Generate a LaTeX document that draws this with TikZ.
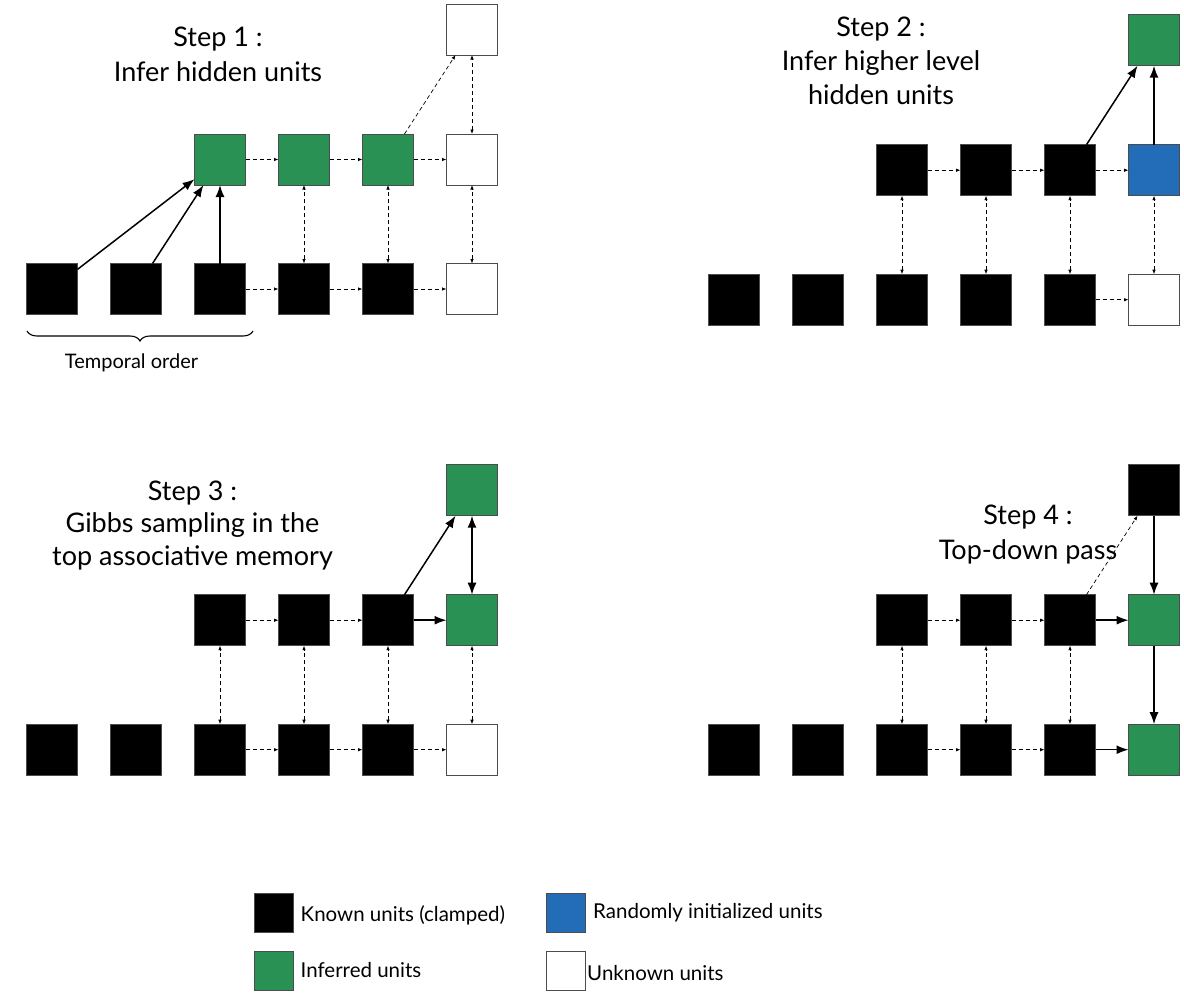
\documentclass[tikz,border=0pt]{standalone}
\usepackage{fontspec}
\setmainfont{Lato}
\usetikzlibrary{arrows.meta,decorations.pathreplacing}
\definecolor{kgreen}{RGB}{40,145,83}
\definecolor{kblue}{RGB}{34,108,184}
\begin{document}
\begin{tikzpicture}[x=1pt,y=-1pt,
  unit/.style={draw=black!70,line width=0.8pt,minimum size=51pt,inner sep=0pt,outer sep=0pt},
  known/.style={unit,fill=black},
  inferred/.style={unit,fill=kgreen},
  randinit/.style={unit,fill=kblue},
  unknown/.style={unit,fill=white},
  legbox/.style={minimum size=39pt},
  strong/.style={line width=1.5pt,-{Latex[length=12pt,width=9pt]}},
  strongboth/.style={line width=1.5pt,{Latex[length=12pt,width=9pt]}-{Latex[length=12pt,width=9pt]}},
  weak/.style={line width=0.7pt,dash pattern=on 4pt off 3pt,-{Latex[length=4.5pt,width=3.5pt]}},
  weakboth/.style={line width=0.7pt,dash pattern=on 4pt off 3pt,{Latex[length=4.5pt,width=3.5pt]}-{Latex[length=4.5pt,width=3.5pt]}},
  title/.style={font=\fontsize{27}{32}\selectfont,anchor=base,inner sep=0pt},
  legtext/.style={font=\fontsize{20.5}{24}\selectfont,anchor=base west,inner sep=0pt},
  small/.style={font=\fontsize{20}{24}\selectfont,anchor=base,inner sep=0pt}
]
\useasboundingbox[fill=white] (0,0) rectangle (1184,996);

% ---------------- Panel 1 ----------------
\node[known] (p1b1) at (52,289) {};
\node[known] (p1b2) at (136,289) {};
\node[known] (p1b3) at (220,289) {};
\node[known] (p1b4) at (304,289) {};
\node[known] (p1b5) at (388,289) {};
\node[unknown] (p1b6) at (472,289) {};
\node[inferred] (p1m1) at (220,159.5) {};
\node[inferred] (p1m2) at (304,159.5) {};
\node[inferred] (p1m3) at (388,159.5) {};
\node[unknown] (p1m4) at (472,159.5) {};
\node[unknown] (p1t) at (472,29.5) {};
\draw[strong] (p1b1) -- (p1m1);
\draw[strong] (p1b2) -- (p1m1);
\draw[strong] (p1b3) -- (p1m1);
\draw[weak] (p1m1) -- (p1m2);
\draw[weak] (p1m2) -- (p1m3);
\draw[weak] (p1m3) -- (p1m4);
\draw[weak] (p1b3) -- (p1b4);
\draw[weak] (p1b4) -- (p1b5);
\draw[weak] (p1b5) -- (p1b6);
\draw[weak] (p1m3) -- (p1t);
\draw[weakboth] (p1b4) -- (p1m2);
\draw[weakboth] (p1b5) -- (p1m3);
\draw[weakboth] (p1b6) -- (p1m4);
\draw[weakboth] (p1m4) -- (p1t);
\node[title] (p1title1) at (218,46.7) {Step 1 :};
\node[title] (p1title2) at (218,81) {Infer hidden units};
\draw[line width=1.1pt,decorate,decoration={brace,mirror,amplitude=10pt}] (27,331) -- (253,331);
\node[small] (torder) at (131.5,368) {Temporal order};

% ---------------- Panel 2 ----------------
\begin{scope}[shift={(682,10.7)}]
\node[known] (p2b1) at (52,289) {};
\node[known] (p2b2) at (136,289) {};
\node[known] (p2b3) at (220,289) {};
\node[known] (p2b4) at (304,289) {};
\node[known] (p2b5) at (388,289) {};
\node[unknown] (p2b6) at (472,289) {};
\node[known] (p2m1) at (220,159.5) {};
\node[known] (p2m2) at (304,159.5) {};
\node[known] (p2m3) at (388,159.5) {};
\node[randinit] (p2m4) at (472,159.5) {};
\node[inferred] (p2t) at (472,29.5) {};
\end{scope}
\draw[strong] (p2m3) -- (p2t);
\draw[strong] (p2m4) -- (p2t);
\draw[weak] (p2m1) -- (p2m2);
\draw[weak] (p2m2) -- (p2m3);
\draw[weak] (p2m3) -- (p2m4);
\draw[weak] (p2b5) -- (p2b6);
\draw[weakboth] (p2b3) -- (p2m1);
\draw[weakboth] (p2b4) -- (p2m2);
\draw[weakboth] (p2b5) -- (p2m3);
\draw[weakboth] (p2b6) -- (p2m4);
\node[title] (p2title1) at (881,36.7) {Step 2 :};
\node[title] (p2title2) at (881,70.3) {Infer higher level};
\node[title] (p2title3) at (881,104) {hidden units};

% ---------------- Panel 3 ----------------
\begin{scope}[shift={(0,460.7)}]
\node[known] (p3b1) at (52,289) {};
\node[known] (p3b2) at (136,289) {};
\node[known] (p3b3) at (220,289) {};
\node[known] (p3b4) at (304,289) {};
\node[known] (p3b5) at (388,289) {};
\node[unknown] (p3b6) at (472,289) {};
\node[known] (p3m1) at (220,159.5) {};
\node[known] (p3m2) at (304,159.5) {};
\node[known] (p3m3) at (388,159.5) {};
\node[inferred] (p3m4) at (472,159.5) {};
\node[inferred] (p3t) at (472,29.5) {};
\end{scope}
\draw[strong] (p3m3) -- (p3t);
\draw[strong] (p3m3) -- (p3m4);
\draw[strongboth] (p3m4) -- (p3t);
\draw[weak] (p3m1) -- (p3m2);
\draw[weak] (p3m2) -- (p3m3);
\draw[weak] (p3b3) -- (p3b4);
\draw[weak] (p3b4) -- (p3b5);
\draw[weak] (p3b5) -- (p3b6);
\draw[weakboth] (p3b3) -- (p3m1);
\draw[weakboth] (p3b4) -- (p3m2);
\draw[weakboth] (p3b5) -- (p3m3);
\draw[weakboth] (p3b6) -- (p3m4);
\node[title] (p3title1) at (192.5,500) {Step 3 :};
\node[title] (p3title2) at (192.5,532) {Gibbs sampling in the};
\node[title] (p3title3) at (192.5,565) {top associative memory};

% ---------------- Panel 4 ----------------
\begin{scope}[shift={(682,460.7)}]
\node[known] (p4b1) at (52,289) {};
\node[known] (p4b2) at (136,289) {};
\node[known] (p4b3) at (220,289) {};
\node[known] (p4b4) at (304,289) {};
\node[known] (p4b5) at (388,289) {};
\node[inferred] (p4b6) at (472,289) {};
\node[known] (p4m1) at (220,159.5) {};
\node[known] (p4m2) at (304,159.5) {};
\node[known] (p4m3) at (388,159.5) {};
\node[inferred] (p4m4) at (472,159.5) {};
\node[known] (p4t) at (472,29.5) {};
\end{scope}
\node[title] (p4title1) at (1028,524) {Step 4 :};
\node[title] (p4title2) at (1028,559) {Top-down pass};
\draw[strong] (p4t) -- (p4m4);
\draw[strong] (p4m4) -- (p4b6);
\draw[strong] (p4m3) -- (p4m4);
\draw[strong] (p4b5) -- (p4b6);
\draw[weak] (p4m3) -- (p4t);
\draw[weak] (p4m1) -- (p4m2);
\draw[weak] (p4m2) -- (p4m3);
\draw[weak] (p4b3) -- (p4b4);
\draw[weak] (p4b4) -- (p4b5);
\draw[weakboth] (p4b3) -- (p4m1);
\draw[weakboth] (p4b4) -- (p4m2);
\draw[weakboth] (p4b5) -- (p4m3);

% ---------------- Legend ----------------
\node[known,legbox] (lk) at (274,913) {};
\node[inferred,legbox] (li) at (274,971) {};
\node[randinit,legbox] (lr) at (565.5,913) {};
\node[unknown,legbox] (lu) at (565.5,971) {};
\node[legtext] (lkt) at (300.5,921) {Known units (clamped)};
\node[legtext] (lit) at (300.5,977) {Inferred units};
\node[legtext] (lrt) at (593,918) {Randomly initialized units};
\node[legtext] (lut) at (587,980) {Unknown units};
\end{tikzpicture}
\end{document}
